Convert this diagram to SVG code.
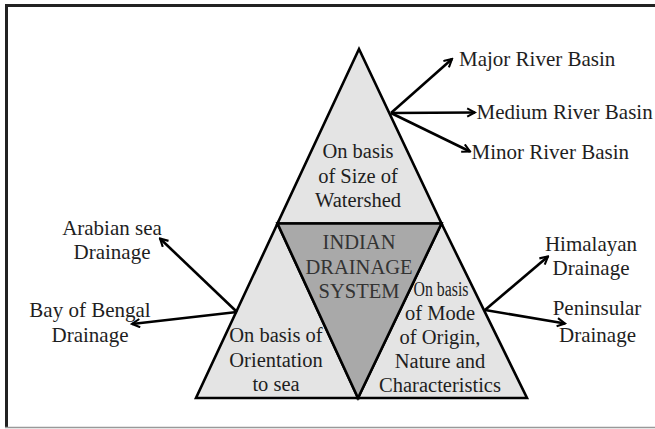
<svg xmlns="http://www.w3.org/2000/svg" width="655" height="429" viewBox="0 0 655 429">
<style>
text{font-family:'Liberation Serif','Times New Roman','DejaVu Serif',serif;fill:#1e1e1e;text-anchor:middle}
.in{font-size:20.5px}
.out{font-size:21px}
.lbl{font-size:21px;text-anchor:start}
.mid{fill:#333}
.tri{stroke:#000;stroke-width:2.6;stroke-linejoin:miter}
.light{fill:#e4e4e4}
.dark{fill:#a9a9a9}
.conn line{stroke:#000;stroke-width:2.6;marker-end:url(#ah)}
</style>
<defs>
<marker id="ah" viewBox="0 0 10 10" refX="8.5" refY="5" markerWidth="4" markerHeight="4" markerUnits="strokeWidth" orient="auto">
<path d="M1,1 L8.5,5 L1,9" fill="none" stroke="#000" stroke-width="2"/>
</marker>
</defs>
<rect width="655" height="429" fill="#fff"/>
<g id="frame">
<line x1="5" y1="5.5" x2="655" y2="5.5" stroke="#222" stroke-width="3"/>
<line x1="6.5" y1="4" x2="6.5" y2="428" stroke="#222" stroke-width="3"/>
<line x1="5" y1="427.5" x2="655" y2="427.5" stroke="#999" stroke-width="1.5"/>
</g>
<g id="size">
<polygon class="tri light" points="359,49 441.5,223.5 277.5,223.5"/>
<text class="in" x="358" y="158" font-family="Liberation Serif, serif">On basis</text>
<text class="in" x="358" y="183" font-family="Liberation Serif, serif">of Size of</text>
<text class="in" x="358" y="207" font-family="Liberation Serif, serif">Watershed</text>
</g>
<g id="orientation">
<polygon class="tri light" points="277.5,223.5 358,398 196,398"/>
<text class="in" x="276" y="342">On basis of</text>
<text class="in" x="276" y="367">Orientation</text>
<text class="in" x="276" y="391">to sea</text>
</g>
<g id="mode">
<polygon class="tri light" points="441.5,223.5 527,398 358,398"/>
<text class="in" x="441" y="295.5" textLength="55" lengthAdjust="spacingAndGlyphs">On basis</text>
<text class="in" x="440" y="320">of Mode</text>
<text class="in" x="440" y="344">of Origin,</text>
<text class="in" x="440" y="368">Nature and</text>
<text class="in" x="440" y="392">Characteristics</text>
</g>
<g id="center">
<polygon class="tri dark" points="277.5,223.5 441.5,223.5 358,398"/>
<text class="in mid" x="359" y="249">INDIAN</text>
<text class="in mid" x="359" y="274">DRAINAGE</text>
<text class="in mid" x="359" y="298">SYSTEM</text>
</g>
<g id="connectors" class="conn">
<line x1="391" y1="113" x2="452" y2="59"/>
<line x1="391" y1="113" x2="475" y2="112.5"/>
<line x1="391" y1="113" x2="470" y2="151.5"/>
<line x1="237" y1="312" x2="160" y2="238.5"/>
<line x1="237" y1="312" x2="132" y2="324"/>
<line x1="485" y1="310" x2="548" y2="256.5"/>
<line x1="485" y1="310" x2="565" y2="323.5"/>
</g>
<g id="major"><text class="lbl" x="459" y="66">Major River Basin</text></g>
<g id="medium"><text class="lbl" x="476.5" y="118.5">Medium River Basin</text></g>
<g id="minor"><text class="lbl" x="471.5" y="159">Minor River Basin</text></g>
<g id="arabian">
<text class="out" x="112" y="235">Arabian sea</text>
<text class="out" x="112" y="259">Drainage</text>
</g>
<g id="bengal">
<text class="out" x="90" y="317">Bay of Bengal</text>
<text class="out" x="90" y="342">Drainage</text>
</g>
<g id="himalayan">
<text class="out" x="591" y="250.5">Himalayan</text>
<text class="out" x="591" y="275">Drainage</text>
</g>
<g id="peninsular">
<text class="out" x="597" y="315">Peninsular</text>
<text class="out" x="597.5" y="341.5">Drainage</text>
</g>
</svg>
